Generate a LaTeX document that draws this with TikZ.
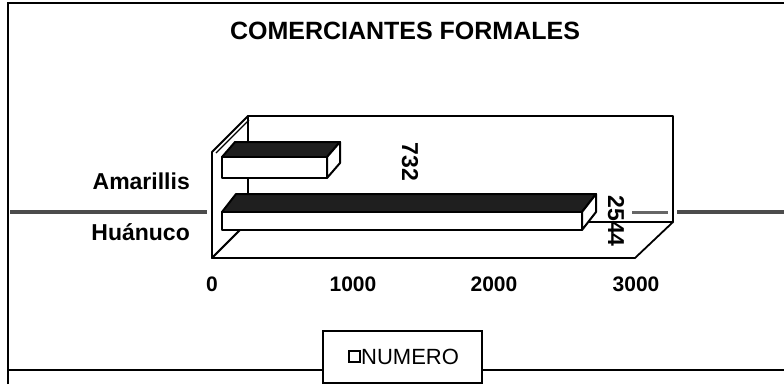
\documentclass[tikz,border=0pt]{standalone}
\usepackage{fontspec}
\setmainfont{Liberation Sans}
\begin{document}
\begin{tikzpicture}[x=1pt,y=-1pt,
  wall/.style={draw=black,line width=1.8pt,fill=white,line join=round},
  barfront/.style={draw=black,line width=2.6pt,fill=white,line join=round},
  bartop/.style={draw=black,line width=2pt,fill=black!88,line join=round},
  barside/.style={draw=black,line width=2pt,fill=white,line join=round},
  frameline/.style={draw=black,line width=1.4pt},
  foldline/.style={draw=black!70,line width=3.5pt},
  catlabel/.style={font=\fontsize{23}{26}\selectfont\bfseries,anchor=east,inner sep=0pt},
  ticklabel/.style={font=\fontsize{21}{24}\selectfont\bfseries,inner sep=0pt},
  vallabel/.style={font=\fontsize{23}{26}\selectfont\bfseries,rotate=-90,inner sep=0pt}]
\useasboundingbox (0,0) rectangle (784,384);
\fill[white] (0,0) rectangle (784,384);
% scan fold line
\draw[foldline] (10,212) -- (207,212);
\draw[foldline] (677,212) -- (784,212);
% outer frame
\draw[frameline] (8,384) -- (8,3) -- (784,3);
\draw[frameline] (8,370) -- (323,370);
\draw[frameline] (482,370) -- (784,370);
% title
\node[font=\fontsize{25}{28}\selectfont\bfseries,inner sep=0pt] (title) at (405,31) {COMERCIANTES FORMALES};
% walls
\draw[wall] (248,116) rectangle (673,222);
\draw[wall] (212,152) -- (248,116) -- (248,222) -- (212,258) -- cycle;
\draw[wall] (212,258) -- (248,222) -- (673,222) -- (635,258) -- cycle;
\draw[black,line width=1.2pt] (216,153) -- (249,120);
\draw[foldline,draw=black!60,line width=3pt] (632,212) -- (668,212);
% bars
\newcommand{\mybar}[6]{%
  \draw[bartop] (#1,#3) -- (#1+#5,#3-#6) -- (#2+#5,#3-#6) -- (#2,#3) -- cycle;
  \draw[barside] (#2,#3) -- (#2+#5,#3-#6) -- (#2+#5,#4-#6) -- (#2,#4) -- cycle;
  \draw[barfront] (#1,#3) rectangle (#2,#4);}
\mybar{222}{327}{157}{178}{13}{15}
\mybar{222}{582}{212}{230}{14}{18}
% category labels
\node[catlabel] (amarillis) at (190,181) {Amarillis};
\node[catlabel] (huanuco) at (190,232) {Huánuco};
% value labels
\node[vallabel] (v732) at (410,162) {732};
\node[vallabel] (v2544) at (616,221) {2544};
% tick labels
\node[ticklabel] (t0) at (212,284) {0};
\node[ticklabel] (t1) at (353,284) {1000};
\node[ticklabel] (t2) at (494,284) {2000};
\node[ticklabel] (t3) at (636,284) {3000};
% legend
\draw[black,line width=1.6pt,fill=white] (323,331) rectangle (482,383);
\draw[black,line width=2.2pt,fill=white] (349,351) rectangle (360,362);
\node[font=\fontsize{22}{25}\selectfont,anchor=west,inner sep=0pt] (legend) at (361,357) {NUMERO};
\end{tikzpicture}
\end{document}
